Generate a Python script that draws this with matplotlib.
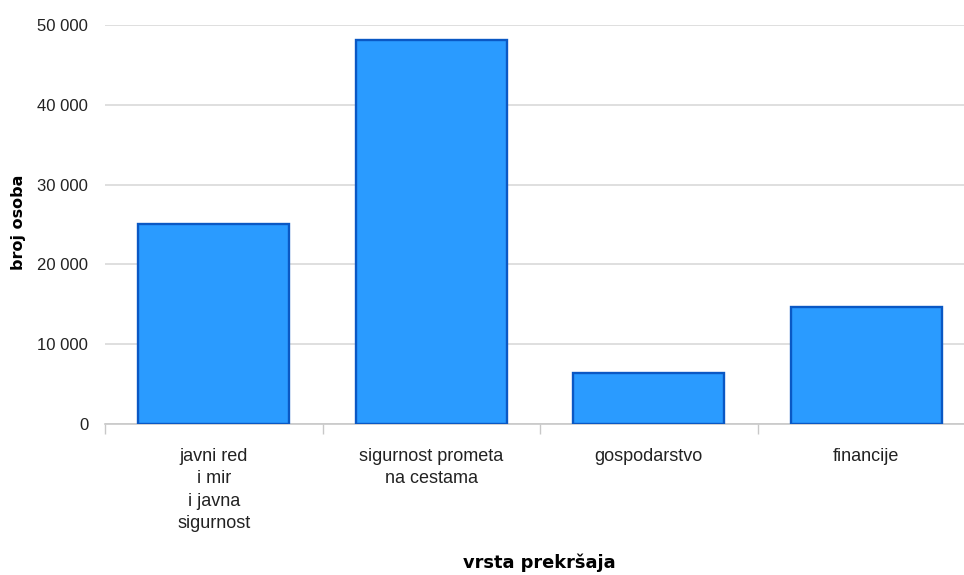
import matplotlib
matplotlib.use("Agg")
from matplotlib import pyplot as plt
from matplotlib.ticker import FuncFormatter, FixedLocator

categories = ["javni red\ni mir\ni javna\nsigurnost", "sigurnost prometa\nna cestama",
              "gospodarstvo", "financije"]
values = [25050, 48150, 6350, 14650]
y_ticks = [0, 10000, 20000, 30000, 40000, 50000]

plt.rcParams['font.family'] = ['Liberation Sans', 'DejaVu Sans']

fig = plt.figure(figsize=(9.64, 5.75), dpi=100)
ax = fig.add_axes([105/964, 1-424/575, 870/964, 399/575])

x = list(range(len(categories)))
ax.bar(x, values, width=0.695, color="#2a9bff", edgecolor="#0a58c4", linewidth=1.7, zorder=3)

ax.set_xlim(-0.5, len(categories)-0.5)
ax.set_ylim(0, 50000)
ax.set_yticks(y_ticks)
ax.yaxis.set_major_formatter(FuncFormatter(lambda v, p: "{:,}".format(int(v)).replace(",", " ")))
ax.grid(axis="y", color="#d9d9d9", linewidth=1.2, zorder=0)

ax.set_xticks(x)
ax.set_xticklabels(categories, linespacing=1.43)
ax.xaxis.set_minor_locator(FixedLocator([i-0.5 for i in range(len(categories)+1)]))
ax.tick_params(axis="x", which="major", length=0, pad=17, labelsize=13, colors="#222222")
ax.tick_params(axis="x", which="minor", length=7, width=1, color="#c8c8c8")
ax.tick_params(axis="y", length=0, pad=12, labelsize=12, colors="#222222")

for s in ["top", "right", "left"]:
    ax.spines[s].set_visible(False)
ax.spines["bottom"].set_color("#c8c8c8")
ax.spines["bottom"].set_linewidth(1.2)

ax.set_ylabel("broj osoba", fontweight="bold", fontsize=11.5, family="DejaVu Sans")
ax.yaxis.set_label_coords(-0.091, 0.505)
ax.set_xlabel("vrsta prekršaja", fontweight="bold", fontsize=12.8, family="DejaVu Sans")
ax.xaxis.set_label_coords(0.499, -0.325)

plt.savefig("out.png", dpi=100)
